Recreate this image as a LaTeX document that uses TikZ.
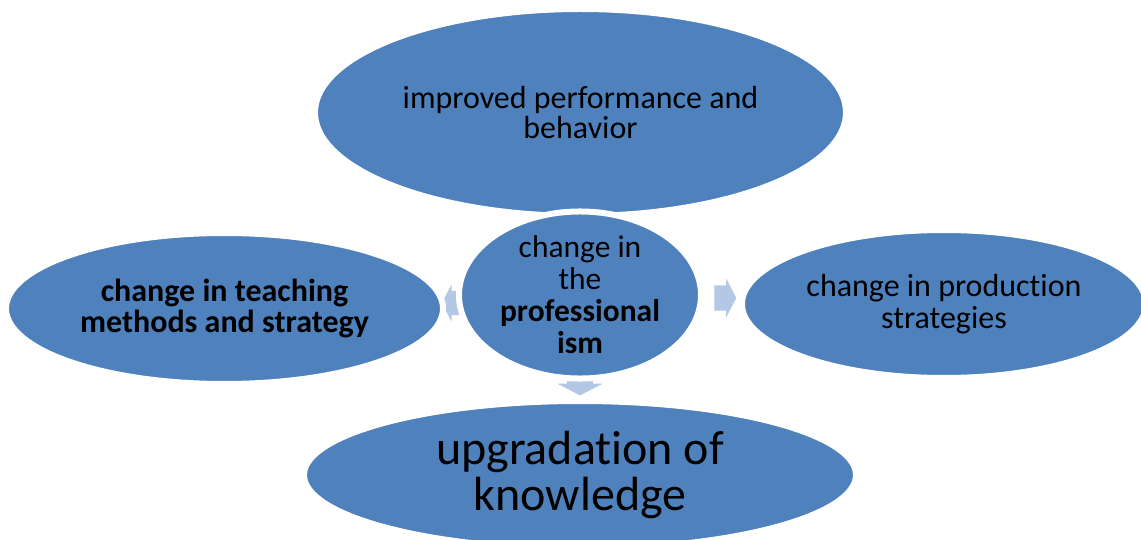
\documentclass[tikz,border=0pt]{standalone}
\usepackage{fontspec}
\setmainfont{Carlito}[Ligatures=NoCommon]
\usepackage{tikz}
\usetikzlibrary{shapes}
\usetikzlibrary{shapes.arrows}

\definecolor{ovalblue}{RGB}{79,129,189}
\definecolor{arrowblue}{RGB}{180,199,228}

\begin{document}
\begin{tikzpicture}[x=1pt, y=-1pt,
		oval/.style={ellipse, draw=white, line width=6pt, fill=ovalblue, inner sep=0pt, align=center},
		blockarrow/.style={single arrow, fill=arrowblue, inner sep=0pt, text depth=0pt, single arrow tip angle=125}]
			\useasboundingbox (0,0) rectangle (1141,540);

			\node[blockarrow, minimum height=34pt, text height=26pt, single arrow head extend=9.5pt, rotate=90] (up) at (580,207) {};
			\node[blockarrow, minimum height=30pt, text height=24pt, single arrow head extend=6.5pt, rotate=180] (left) at (460,303) {};
			\node[blockarrow, minimum height=22pt, text height=25pt, single arrow head extend=7pt] (right) at (722,298) {};
			\node[blockarrow, minimum height=30pt, text height=26pt, single arrow head extend=9.5pt, rotate=-90] (down) at (580,377) {};

			\node[oval, minimum width=531pt, minimum height=207pt, font=\fontsize{32}{30}\selectfont] (1) at (580.5,112.5) {improved performance and\\behavior};

			\node[oval, minimum width=437pt, minimum height=151pt, font=\bfseries\fontsize{32}{31}\selectfont] (2) at (224.5,308.5) {change in teaching\\methods and strategy};
			\node[oval, minimum width=242pt, minimum height=142pt, font=\fontsize{31.5}{32}\selectfont] (3) at (580,295) {change in\\the\\\textbf{professional}\\\textbf{ism}};
			\node[oval, minimum width=404pt, minimum height=148pt, font=\fontsize{32}{32}\selectfont] (4) at (944,304) {change in production\\strategies};

			\node[oval, minimum width=552pt, minimum height=148pt, font=\fontsize{48}{46}\selectfont] (5) at (580,475) {upgradation of\\knowledge};
        \end{tikzpicture}
\end{document}
